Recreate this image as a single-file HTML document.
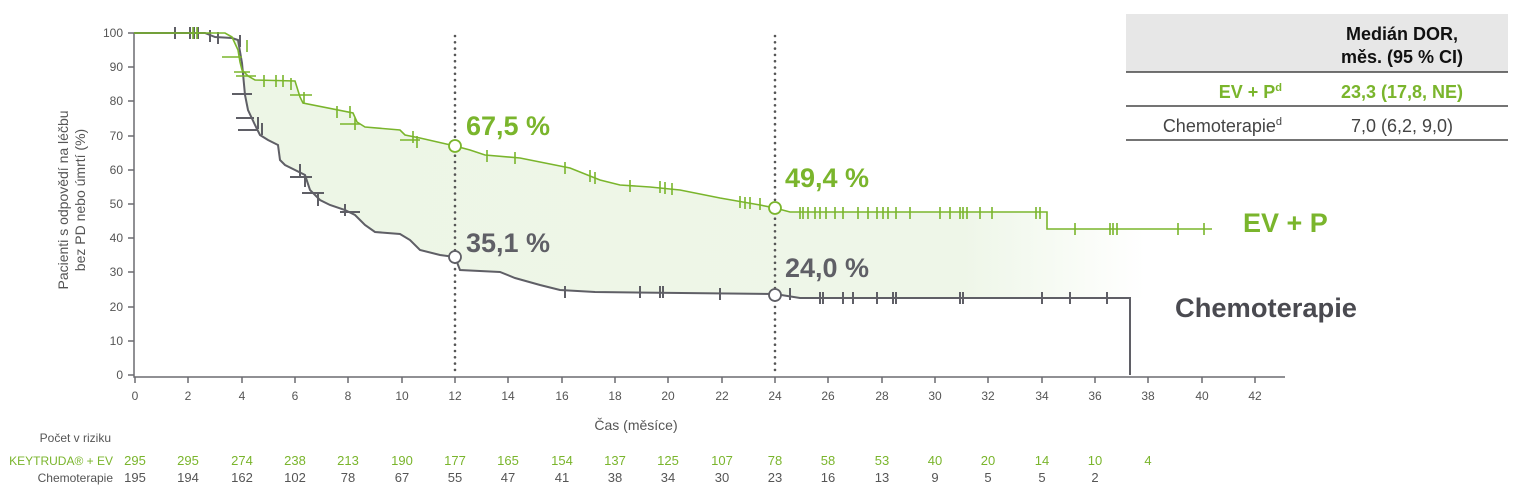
<!DOCTYPE html>
<html><head><meta charset="utf-8"><style>
body{margin:0;background:#fff;}
svg{display:block;font-family:"Liberation Sans Narrow","Liberation Sans",sans-serif;}
</style></head><body>
<svg width="1520" height="498" viewBox="0 0 1520 498" xmlns="http://www.w3.org/2000/svg">
<defs>
<linearGradient id="fg" x1="0" x2="1" y1="0" y2="0">
<stop offset="0" stop-color="#edf6e6"/><stop offset="0.8" stop-color="#eef6e8"/><stop offset="1" stop-color="#ffffff"/>
</linearGradient>
</defs>
<path d="M232,37 L238,50 L240,62 L242,70 L248,76 L255,80 L295,81 L300,97 L303,103 L353,113 L357,122 L365,127 L400,130 L405,135 L420,138 L455,146 L470,150 L485,155 L520,158 L540,162 L570,168 L600,180 L620,185 L650,187 L680,190 L720,198 L760,205 L775,208 L790,212 L1047,213 L1047,229 L1145,229 L1145,298 L800,298 L775,294 L595,292 L560,290 L540,285 L515,278 L500,272 L460,270 L455,258 L440,255 L420,250 L410,240 L400,234 L375,232 L365,225 L355,215 L345,210 L330,205 L320,200 L310,190 L305,175 L295,170 L285,165 L280,160 L278,145 L268,140 L260,135 L255,125 L248,110 L245,95 L242,63 L238,40 Z" fill="url(#fg)"/>
<g stroke="#6b6b70" stroke-width="1.5" fill="none">
<path d="M134,33 V377 H1285"/>
<path d="M128,33H134M128,67H134M128,101H134M128,136H134M128,170H134M128,204H134M128,238H134M128,272H134M128,307H134M128,341H134M128,375H134"/>
<path d="M135,377v6M188,377v6M242,377v6M295,377v6M348,377v6M402,377v6M455,377v6M508,377v6M562,377v6M615,377v6M668,377v6M722,377v6M775,377v6M828,377v6M882,377v6M935,377v6M988,377v6M1042,377v6M1095,377v6M1148,377v6M1202,377v6M1255,377v6"/>
</g>
<g fill="#555" font-size="12" text-anchor="end">
<text x="123" y="37">100</text><text x="123" y="71">90</text><text x="123" y="105">80</text><text x="123" y="140">70</text><text x="123" y="174">60</text><text x="123" y="208">50</text><text x="123" y="242">40</text><text x="123" y="276">30</text><text x="123" y="311">20</text><text x="123" y="345">10</text><text x="123" y="379">0</text>
</g>
<g fill="#555" font-size="12" text-anchor="middle">
<text x="135" y="400">0</text><text x="188" y="400">2</text><text x="242" y="400">4</text><text x="295" y="400">6</text><text x="348" y="400">8</text><text x="402" y="400">10</text><text x="455" y="400">12</text><text x="508" y="400">14</text><text x="562" y="400">16</text><text x="615" y="400">18</text><text x="668" y="400">20</text><text x="722" y="400">22</text><text x="775" y="400">24</text><text x="828" y="400">26</text><text x="882" y="400">28</text><text x="935" y="400">30</text><text x="988" y="400">32</text><text x="1042" y="400">34</text><text x="1095" y="400">36</text><text x="1148" y="400">38</text><text x="1202" y="400">40</text><text x="1255" y="400">42</text>
<text x="636" y="430" font-size="14">Čas (měsíce)</text>
</g>
<g fill="#555" font-size="14" text-anchor="middle">
<text transform="translate(68,200) rotate(-90)">Pacienti s odpovědí na léčbu</text>
<text transform="translate(85,200) rotate(-90)">bez PD nebo úmrtí (%)</text>
</g>
<path d="M455,36V375M775,36V375" stroke="#555" stroke-width="2.6" stroke-dasharray="0,6.3" stroke-linecap="round"/>
<path d="M134,33 H205 L215,37 L232,38 L238,40 L242,63 L245,95 L248,110 L255,125 L260,135 L268,140 L278,145 L280,160 L285,165 L295,170 L305,175 L310,190 L320,200 L330,205 L345,210 L355,215 L365,225 L375,232 L400,234 L410,240 L420,250 L440,255 L455,257 L460,270 L500,272 L515,278 L540,285 L560,290 L595,292 L775,294 L800,298 H1130 V375" fill="none" stroke="#5f5f66" stroke-width="2"/>
<path d="M175,27v12M190,27v12M194,27v12M198,27v12M210,30v12M218,32v12M240,35v12M258,117v12M262,123v12M300,164v12M305,175v12M318,194v12M345,204v12M565,286v12M640,286v12M660,286v12M663,286v12M720,288v12M790,288v12M820,292v12M823,292v12M843,292v12M853,292v12M877,292v12M893,292v12M896,292v12M960,292v12M963,292v12M1042,292v12M1070,292v12M1107,292v12 M232,94h20M236,118h18M238,130h20M290,177h22M302,193h22M340,212h20" stroke="#5f5f66" stroke-width="2"/>
<path d="M134,33 H225 L232,37 L238,50 L240,62 L242,70 L248,76 L255,80 L295,81 L300,97 L303,103 L353,113 L357,122 L365,127 L400,130 L405,135 L420,138 L455,146 L470,150 L485,155 L520,158 L540,162 L570,168 L600,180 L620,185 L650,187 L680,190 L720,198 L760,205 L775,208 L790,212 H1047 V229 H1212" fill="none" stroke="#7ab52c" stroke-width="1.6"/>
<path d="M193,27v12M197,27v12M247,40v12M264,75v12M276,75v12M283,75v12M291,78v12M304,92v12M337,106v12M350,106v12M355,118v12M413,131v12M417,136v12M487,150v12M515,152v12M565,162v12M590,170v12M595,172v12M630,180v12M660,181v12M665,182v12M672,183v12M740,196v12M745,197v12M750,197v12M760,198v12M800,207v12M803,207v12M808,207v12M815,207v12M820,207v12M826,207v12M835,207v12M843,207v12M858,207v12M868,207v12M877,207v12M883,207v12M888,207v12M896,207v12M910,207v12M940,207v12M950,207v12M960,207v12M963,207v12M967,207v12M980,207v12M992,207v12M1036,207v12M1040,207v12M1075,223v12M1110,223v12M1113,223v12M1117,223v12M1178,223v12M1204,223v12 M222,57h20M234,72h16M236,76h20M290,95h22M340,124h20M400,140h20" stroke="#7ab52c" stroke-width="1.6"/>
<circle cx="455" cy="146" r="6" fill="#fff" stroke="#7ab52c" stroke-width="1.8"/>
<circle cx="775" cy="208" r="6" fill="#fff" stroke="#7ab52c" stroke-width="1.8"/>
<circle cx="455" cy="257" r="6" fill="#fff" stroke="#5f5f66" stroke-width="1.8"/>
<circle cx="775" cy="295" r="6" fill="#fff" stroke="#5f5f66" stroke-width="1.8"/>
<g font-family="Liberation Sans,sans-serif" font-weight="bold" font-size="27">
<text x="466" y="135" fill="#7ab52c">67,5 %</text>
<text x="785" y="187" fill="#7ab52c">49,4 %</text>
<text x="466" y="252" fill="#5f5f66">35,1 %</text>
<text x="785" y="277" fill="#5f5f66">24,0 %</text>
<text x="1243" y="232" fill="#7ab52c">EV + P</text>
<text x="1175" y="317" fill="#4a4a50" textLength="182" lengthAdjust="spacingAndGlyphs">Chemoterapie</text>
</g>
<rect x="1126" y="14" width="382" height="58" fill="#e7e7e7"/>
<path d="M1126,72H1508M1126,106H1508M1126,140H1508" stroke="#222" stroke-width="1.2"/>
<g font-family="Liberation Sans,sans-serif" font-size="18" text-anchor="middle">
<text x="1402" y="40" font-weight="bold" fill="#111">Medián DOR,</text>
<text x="1402" y="63" font-weight="bold" fill="#111">měs. (95 % CI)</text>
<text x="1402" y="98" font-weight="bold" fill="#7ab52c">23,3 (17,8, NE)</text>
<text x="1402" y="132" fill="#444">7,0 (6,2, 9,0)</text>
<text x="1282" y="98" text-anchor="end" font-weight="bold" fill="#7ab52c">EV + P<tspan font-size="11" dy="-7">d</tspan></text>
<text x="1282" y="132" text-anchor="end" fill="#444">Chemoterapie<tspan font-size="11" dy="-7">d</tspan></text>
</g>
<g font-size="12" text-anchor="end">
<text x="111" y="442" fill="#555">Počet v riziku</text>
<text x="113" y="465" fill="#7ab52c">KEYTRUDA® + EV</text>
<text x="113" y="482" fill="#555">Chemoterapie</text>
</g>
<g font-size="13" text-anchor="middle" fill="#7ab52c">
<text x="135" y="465">295</text><text x="188" y="465">295</text><text x="242" y="465">274</text><text x="295" y="465">238</text><text x="348" y="465">213</text><text x="402" y="465">190</text><text x="455" y="465">177</text><text x="508" y="465">165</text><text x="562" y="465">154</text><text x="615" y="465">137</text><text x="668" y="465">125</text><text x="722" y="465">107</text><text x="775" y="465">78</text><text x="828" y="465">58</text><text x="882" y="465">53</text><text x="935" y="465">40</text><text x="988" y="465">20</text><text x="1042" y="465">14</text><text x="1095" y="465">10</text><text x="1148" y="465">4</text>
</g>
<g font-size="13" text-anchor="middle" fill="#555">
<text x="135" y="482">195</text><text x="188" y="482">194</text><text x="242" y="482">162</text><text x="295" y="482">102</text><text x="348" y="482">78</text><text x="402" y="482">67</text><text x="455" y="482">55</text><text x="508" y="482">47</text><text x="562" y="482">41</text><text x="615" y="482">38</text><text x="668" y="482">34</text><text x="722" y="482">30</text><text x="775" y="482">23</text><text x="828" y="482">16</text><text x="882" y="482">13</text><text x="935" y="482">9</text><text x="988" y="482">5</text><text x="1042" y="482">5</text><text x="1095" y="482">2</text>
</g>
</svg>
</body></html>
